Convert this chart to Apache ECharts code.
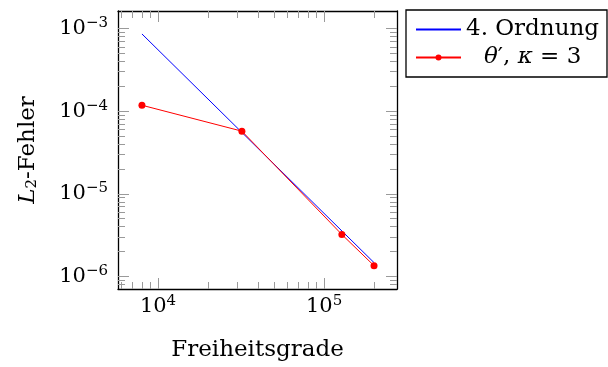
<!DOCTYPE html>
<html><head><meta charset="utf-8">
<script src="https://cdn.jsdelivr.net/npm/echarts@6/dist/echarts.min.js"></script>
<style>html,body{margin:0;padding:0;background:#fff}#c{width:608px;height:367px}</style>
</head><body><div id="c"></div>
<script>
// ---- data ----
const dofs = [8000, 32000, 128000, 200000];
const errTheta = [1.18e-4, 5.73e-5, 3.22e-6, 1.35e-6];
const refDofs = [8000, 200000];
const refErr = [8.6e-4, 1.47e-6];
const seriesNames = ['4. Ordnung', 'θ′, κ = 3'];
const xMajor = [1e4, 1e5];
const xMinor = [6e3, 7e3, 8e3, 9e3, 2e4, 3e4, 4e4, 5e4, 6e4, 7e4, 8e4, 9e4, 2e5];
const yMajor = [1e-6, 1e-5, 1e-4, 1e-3];
const yMinor = [8e-7, 9e-7, 2e-6, 3e-6, 4e-6, 5e-6, 6e-6, 7e-6, 8e-6, 9e-6,
                2e-5, 3e-5, 4e-5, 5e-5, 6e-5, 7e-5, 8e-5, 9e-5,
                2e-4, 3e-4, 4e-4, 5e-4, 6e-4, 7e-4, 8e-4, 9e-4];
const xRange = [5740, 2.75e5];
const yRange = [7.05e-7, 1.63e-3];
const xName = 'Freiheitsgrade';
const yName = '-Fehler';

const FONT = 'DejaVu Serif';
const TICKC = '#9a9a9a';

function pow10Label(v) {
  const e = Math.round(Math.log10(v));
  return '{b|10}{s|' + String(e).replace('-', '\u2212') + '}';
}
const powRich = {
  b: {fontFamily: FONT, fontSize: 21, color: '#000', lineHeight: 26},
  s: {fontFamily: FONT, fontSize: 15, color: '#000', lineHeight: 15, verticalAlign: 'top'}
};

function mkAxis(dim, pos, gridIndex, ticks, len, showLine, labels, extra) {
  const rng = dim === 'x' ? xRange : yRange;
  const a = {
    type: 'log', logBase: 10, gridIndex: gridIndex, position: pos,
    min: rng[0], max: rng[1],
    axisLine: {show: showLine, onZero: false, lineStyle: {color: '#000', width: 1.3}},
    axisTick: {show: true, inside: true, length: len, customValues: ticks,
               lineStyle: {color: TICKC, width: 1}},
    axisLabel: labels ? {show: true, customValues: ticks, formatter: pow10Label,
               rich: powRich, margin: dim === 'x' ? 5 : 10} : {show: false},
    splitLine: {show: false},
    minorTick: {show: false}, minorSplitLine: {show: false}
  };
  return Object.assign(a, extra || {});
}

const chart = echarts.init(document.getElementById('c'), null, {renderer: 'canvas'});
const gridRect = {left: 118, right: 211, top: 11, bottom: 78};

chart.setOption({
  animation: false,
  backgroundColor: '#fff',
  grid: [Object.assign({}, gridRect), Object.assign({}, gridRect)],
  xAxis: [
    mkAxis('x', 'bottom', 0, xMajor, 11, true, true, {
      name: xName, nameLocation: 'middle', nameGap: 50,
      nameTextStyle: {fontFamily: FONT, fontSize: 23, color: '#000'}
    }),
    mkAxis('x', 'top', 0, xMajor, 11, true, false),
    mkAxis('x', 'bottom', 1, xMinor, 7, false, false),
    mkAxis('x', 'top', 1, xMinor, 7, false, false)
  ],
  yAxis: [
    mkAxis('y', 'left', 0, yMajor, 11, true, true, {
      name: '{i|L}{sub|2}{n|' + yName + '}', nameLocation: 'middle', nameGap: 78,
      nameRotate: 90,
      nameTextStyle: {
        rich: {
          i: {fontFamily: FONT, fontSize: 23, fontStyle: 'italic', color: '#000'},
          sub: {fontFamily: FONT, fontSize: 15, color: '#000', verticalAlign: 'bottom', padding: [8, 0, 0, 0]},
          n: {fontFamily: FONT, fontSize: 23, color: '#000'}
        }
      }
    }),
    mkAxis('y', 'right', 0, yMajor, 11, true, false),
    mkAxis('y', 'left', 1, yMinor, 7, false, false),
    mkAxis('y', 'right', 1, yMinor, 7, false, false)
  ],
  legend: {
    orient: 'vertical', left: 406, top: 10,
    data: [{name: seriesNames[0], itemStyle: {opacity: 0}}, {name: seriesNames[1]}],
    itemWidth: 45, itemHeight: 7.5, itemGap: 5,
    padding: [8, 4, 8, 9],
    borderColor: '#000', borderWidth: 1.3,
    selectedMode: false,
    formatter: function (name) {
      if (name === seriesNames[0]) return '{a|' + name + '}';
      return '{p|}{it|θ}{n|′, }{it|κ}{n| = 3}';
    },
    textStyle: {
      rich: {
        a: {fontFamily: FONT, fontSize: 23, color: '#000', width: 137, lineHeight: 30},
        p: {width: 18, lineHeight: 30},
        it: {fontFamily: FONT, fontSize: 23, fontStyle: 'italic', color: '#000', lineHeight: 30},
        n: {fontFamily: FONT, fontSize: 23, color: '#000', lineHeight: 30}
      }
    }
  },
  series: [
    {
      name: seriesNames[0], type: 'line', xAxisIndex: 0, yAxisIndex: 0,
      data: refDofs.map((x, i) => [x, refErr[i]]),
      symbol: 'none', lineStyle: {color: '#0000ff', width: 1}, itemStyle: {color: '#0000ff'}
    },
    {
      name: seriesNames[1], type: 'line', xAxisIndex: 0, yAxisIndex: 0,
      data: dofs.map((x, i) => [x, errTheta[i]]),
      symbol: 'circle', symbolSize: 7, showSymbol: true,
      lineStyle: {color: '#ff0000', width: 1}, itemStyle: {color: '#ff0000'}
    }
  ]
});
</script>
</body></html>
